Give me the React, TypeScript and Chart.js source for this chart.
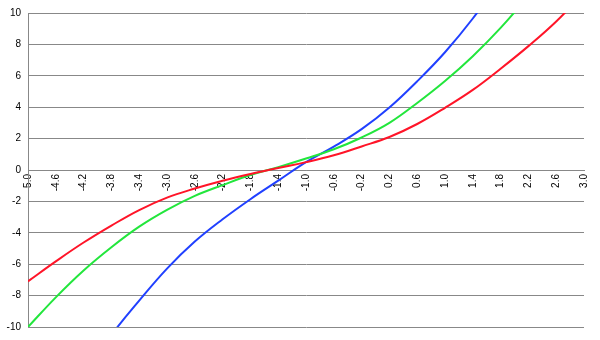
import React, { useEffect, useRef } from "react";
import { Chart, registerables } from "chart.js";

Chart.register(...registerables);

const xValues = [-5.0, -4.6, -4.2, -3.8, -3.4, -3.0, -2.6, -2.2, -1.8, -1.4, -1.0, -0.6, -0.2, 0.2, 0.6, 1.0, 1.4, 1.8, 2.2, 2.6, 3.0];

const redSeries = [-7.09, -5.82, -4.62, -3.54, -2.55, -1.76, -1.18, -0.68, -0.25, 0.13, 0.5, 0.94, 1.5, 2.1, 2.93, 3.96, 5.1, 6.45, 7.89, 9.46, 11.3];
const greenSeries = [-10.0, -8.11, -6.4, -4.92, -3.61, -2.54, -1.65, -0.96, -0.32, 0.18, 0.73, 1.32, 2.07, 3.0, 4.27, 5.67, 7.25, 9.05, 11.1, 13.3, 15.7];
const blueSeries = [-18.8, -15.8, -13.0, -10.5, -8.32, -6.28, -4.56, -3.14, -1.86, -0.68, 0.5, 1.49, 2.6, 3.98, 5.65, 7.5, 9.65, 12.1, 14.8, 17.8, 21.0];

const xTickStep = 0.4;
const yTickStep = 2;
const xMin = -5;
const xMax = 3;
const yMin = -10;
const yMax = 10;

const toPoints = (ys: number[]) => xValues.map((x, i) => ({ x, y: ys[i] }));

export default function App() {
  const ref = useRef<HTMLCanvasElement | null>(null);

  useEffect(() => {
    document.body.style.margin = "0";
    const canvas = ref.current;
    if (!canvas) return;
    const font = { family: "'Liberation Sans', Arial, sans-serif", size: 10 };
    const line = { borderWidth: 2, pointRadius: 0, tension: 0.4 };
    const chart = new Chart(canvas, {
      type: "line",
      data: {
        datasets: [
          { data: toPoints(redSeries), borderColor: "#ff1428", ...line },
          { data: toPoints(greenSeries), borderColor: "#22e63c", ...line },
          { data: toPoints(blueSeries), borderColor: "#2040ff", ...line },
        ],
      },
      options: {
        responsive: false,
        animation: false,
        events: [],
        layout: { padding: { top: 12, bottom: 12, right: 13, left: 0 } },
        plugins: { legend: { display: false }, tooltip: { enabled: false } },
        scales: {
          x: {
            type: "linear",
            min: xMin,
            max: xMax,
            position: { y: 0 },
            grid: { display: false, drawTicks: false },
            border: { display: true, color: "#888888", width: 1 },
            ticks: {
              stepSize: xTickStep,
              autoSkip: false,
              minRotation: 90,
              maxRotation: 90,
              padding: 4,
              color: "#000",
              font,
              callback: (v: any) => Number(v).toFixed(1),
            },
          },
          y: {
            type: "linear",
            min: yMin,
            max: yMax,
            grid: { color: "#888888", lineWidth: 1, drawTicks: false },
            border: { display: true, color: "#888888", width: 1 },
            ticks: { stepSize: yTickStep, padding: 7, color: "#000", font },
            afterFit: (scale: any) => {
              scale.width = 28;
            },
          },
        },
      } as any,
    });
    return () => chart.destroy();
  }, []);

  return <canvas ref={ref} width={600} height={340} style={{ display: "block" }} />;
}
